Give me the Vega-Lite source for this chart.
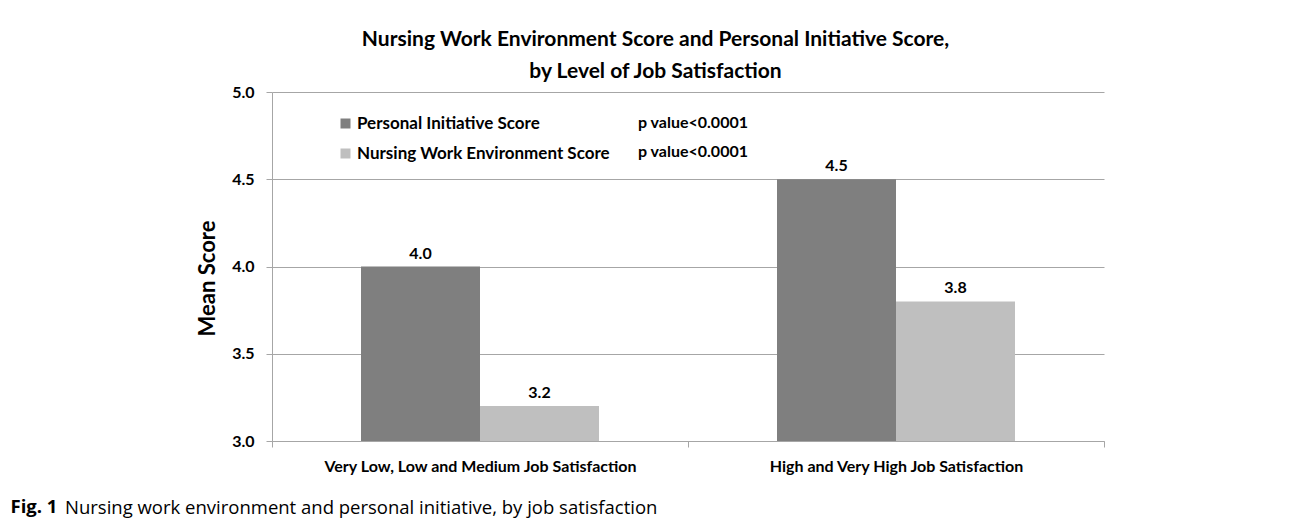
{
  "$schema": "https://vega.github.io/schema/vega-lite/v6.json",
  "width": 832,
  "height": 349,
  "autosize": "none",
  "padding": {"left": 272, "top": 92, "right": 186, "bottom": 80},
  "background": "white",
  "config": {
    "view": {"stroke": null},
    "font": "Lato"
  },
  "title": {
    "text": "Nursing work environment and personal initiative, by job satisfaction",
    "orient": "bottom",
    "anchor": "start",
    "frame": "group",
    "font": "Open Sans",
    "fontSize": 18.5,
    "fontWeight": "normal",
    "color": "black",
    "baseline": "alphabetic",
    "offset": 0,
    "dx": -207,
    "dy": -2
  },
  "data": {
    "values": [
      {"group": "Very Low, Low and Medium Job Satisfaction", "series": "Personal Initiative Score", "score": 4.0},
      {"group": "Very Low, Low and Medium Job Satisfaction", "series": "Nursing Work Environment Score", "score": 3.2},
      {"group": "High and Very High Job Satisfaction", "series": "Personal Initiative Score", "score": 4.5},
      {"group": "High and Very High Job Satisfaction", "series": "Nursing Work Environment Score", "score": 3.8}
    ]
  },
  "resolve": {"axis": {"x": "independent"}},
  "encoding": {
    "xOffset": {
      "field": "series",
      "type": "nominal",
      "sort": ["Personal Initiative Score", "Nursing Work Environment Score"],
      "scale": {"paddingInner": 0, "paddingOuter": 0.748}
    },
    "y": {
      "field": "score",
      "type": "quantitative",
      "scale": {"domain": [3, 5], "nice": false, "zero": false},
      "axis": {
        "values": [3, 3.5, 4, 4.5, 5],
        "format": ".1f",
        "labelFont": "Lato",
        "labelFontSize": 16,
        "labelFontWeight": "bold",
        "labelColor": "black",
        "labelPadding": 12,
        "tickSize": 6,
        "tickColor": "#a6a6a6",
        "domainColor": "#a6a6a6",
        "grid": true,
        "gridColor": "#a6a6a6",
        "title": "Mean Score",
        "titleFont": "Lato",
        "titleFontSize": 22,
        "titleFontWeight": "bold",
        "titleColor": "black",
        "titleBaseline": "middle",
        "titleX": -65,
        "titleY": 186
      }
    }
  },
  "layer": [
    {
      "mark": {"type": "bar"},
      "encoding": {
        "x": {
          "field": "group",
          "type": "nominal",
          "sort": null,
          "scale": {"paddingInner": 0, "paddingOuter": 0},
          "axis": {
            "orient": "bottom",
            "tickBand": "extent",
            "labelAngle": 0,
            "labelFont": "Lato",
            "labelFontSize": 16,
            "labelFontWeight": "bold",
            "labelColor": "black",
            "labelPadding": 11,
            "labelLimit": 0,
            "tickSize": 6,
            "tickColor": "#a6a6a6",
            "domainColor": "#a6a6a6",
            "grid": false,
            "title": "Fig. 1",
            "titleFont": "Open Sans",
            "titleFontSize": 18.5,
            "titleFontWeight": "bold",
            "titleColor": "black",
            "titleAnchor": "start",
            "titleAlign": "left",
            "titleBaseline": "alphabetic",
            "titleX": -262,
            "titleY": 71
          }
        },
        "y2": {"datum": 3},
        "color": {
          "field": "series",
          "type": "nominal",
          "sort": ["Personal Initiative Score", "Nursing Work Environment Score"],
          "scale": {"range": ["#7f7f7f", "#bfbfbf"]},
          "legend": {
            "orient": "none",
            "legendX": 65,
            "legendY": 23,
            "title": null,
            "padding": 0,
            "symbolType": "square",
            "symbolSize": 100,
            "symbolStrokeWidth": 0,
            "labelFont": "Lato",
            "labelFontSize": 17,
            "labelFontWeight": "bold",
            "labelColor": "black",
            "labelOffset": 3,
            "rowPadding": 12,
            "labelLimit": 400
          }
        }
      }
    },
    {
      "mark": {"type": "text", "baseline": "bottom", "dy": -5, "font": "Lato", "fontSize": 16, "fontWeight": "bold", "color": "black"},
      "encoding": {
        "x": {
          "field": "group",
          "type": "nominal",
          "sort": null,
          "axis": {
            "orient": "top",
            "labels": false,
            "ticks": false,
            "domain": false,
            "grid": false,
            "title": ["Nursing Work Environment Score and Personal Initiative Score,", "by Level of Job Satisfaction"],
            "titleFont": "Lato",
            "titleFontSize": 21,
            "titleFontWeight": "bold",
            "titleColor": "black",
            "titleLineHeight": 32,
            "titlePadding": 11,
            "titleAnchor": "middle",
            "titleX": 383
          }
        },
        "text": {"field": "score", "type": "quantitative", "format": ".1f"},
        "opacity": {
          "field": "series",
          "type": "ordinal",
          "scale": {"domain": ["Personal Initiative Score", "Nursing Work Environment Score"], "range": [1, 1]},
          "legend": {
            "orient": "none",
            "legendX": 350,
            "legendY": 23,
            "title": null,
            "padding": 0,
            "symbolSize": 0,
            "symbolStrokeWidth": 0,
            "labelExpr": "'p value<0.0001'",
            "labelFont": "Lato",
            "labelFontSize": 16,
            "labelFontWeight": "bold",
            "labelColor": "black",
            "labelOffset": 0,
            "rowPadding": 13
          }
        }
      }
    }
  ]
}
